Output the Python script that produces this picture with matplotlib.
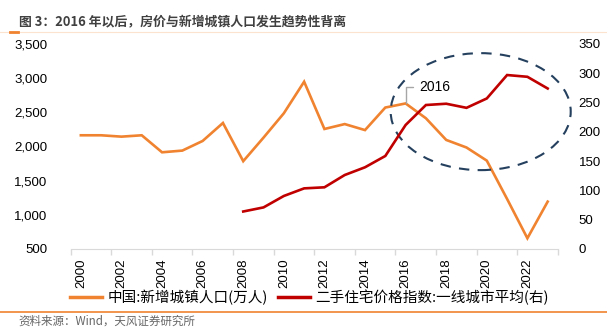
import matplotlib
matplotlib.use("Agg")
import matplotlib.pyplot as plt
from matplotlib.patches import Ellipse
from matplotlib.lines import Line2D

plt.rcParams['font.family'] = ['Noto Sans CJK SC', 'DejaVu Sans']

# data
years = list(range(2000, 2024))
new_urban_pop = [2164, 2164, 2144, 2164, 1915, 1940, 2081, 2344, 1785, 2130, 2486, 2948,
                 2256, 2328, 2240, 2570, 2630, 2413, 2096, 1985, 1793, 1232, 657, 1193]
price_years = list(range(2008, 2024))
price_index = [64, 71, 90.5, 103.5, 105.3, 126.3, 139.5, 158.8, 211.7, 245.8, 248, 241,
               257, 297, 294, 274]
tick_years = years[::2]

orange = '#F0832F'
red = '#C00000'
navy = '#24405E'

fig = plt.figure(figsize=(6.07, 3.33), dpi=100)
ax = fig.add_axes([0.1165, 0.2523, 0.8025, 0.6156])
ax2 = ax.twinx()

xs = [y - 2000 for y in years]
pxs = [y - 2000 for y in price_years]
ax.plot(xs, new_urban_pop, color=orange, lw=1.9, solid_joinstyle='miter')
ax2.plot(pxs, price_index, color=red, lw=1.9, solid_joinstyle='miter')

ax.set_xlim(-0.5, len(years) - 0.5)
ax.set_ylim(500, 3500)
ax2.set_ylim(0, 350)
ax.set_yticks(range(500, 3501, 500))
ax.set_yticklabels([f'{v:,}' for v in range(500, 3501, 500)])
ax2.set_yticks(range(0, 351, 50))

ax.set_xticks([y - 2000 for y in tick_years])
ax.set_xticklabels([str(y) for y in tick_years], rotation=90, family='Liberation Sans', fontsize=9.5)
ax.set_xticks([i - 0.5 for i in range(0, len(years) + 1, 2)], minor=True)
ax.tick_params(axis='x', which='major', length=0, pad=7)
ax.tick_params(axis='x', which='minor', length=4, color='#D9D9D9', width=1)
ax.tick_params(axis='y', length=0, pad=17, labelsize=9.5)
ax2.tick_params(axis='y', length=0, pad=15, labelsize=9.5)
for lab in ax.get_yticklabels() + ax2.get_yticklabels():
    lab.set_family('Liberation Sans')

for a in (ax, ax2):
    for s in ('top', 'right', 'left'):
        a.spines[s].set_visible(False)
    a.spines['bottom'].set_color('#D9D9D9')
ax2.spines['bottom'].set_visible(False)

# circle the post-2016 divergence
ell = Ellipse((19.7, 2510), 8.87, 1712, fill=False, ls=(0, (5, 4)), lw=1.5,
              edgecolor=navy, clip_on=False, zorder=5)
ax.add_patch(ell)

ax.annotate('2016', xy=(16, new_urban_pop[16]),
            xytext=(10, 12), textcoords='offset points', fontsize=10,
            family='Liberation Sans', va='center', ha='left', color='#000000',
            arrowprops=dict(arrowstyle='-', color='#A6A6A6', lw=1,
                            connectionstyle='angle,angleA=0,angleB=90,rad=0',
                            shrinkA=3, shrinkB=0))

handles = [Line2D([], [], color=orange, lw=2.5), Line2D([], [], color=red, lw=2.5)]
labels = ['中国:新增城镇人口(万人)', '二手住宅价格指数:一线城市平均(右)']
fig.legend(handles, labels, loc='center left', bbox_to_anchor=(0.1153, 0.108), ncol=2,
           frameon=False, fontsize=10.5, handlelength=2.2, columnspacing=0.7,
           handletextpad=0.35, borderpad=0, borderaxespad=0)

fig.text(0.031, 0.932, '图 3：2016 年以后，房价与新增城镇人口发生趋势性背离', fontsize=9.3,
         fontweight='bold', color='#404040', va='center')
fig.add_artist(Line2D([0, 1], [0.903, 0.903], color='#FBE3D0', lw=0.8))
fig.add_artist(Line2D([0.016, 0.03], [0.903, 0.903], color=orange, lw=2))
fig.add_artist(Line2D([0, 1], [0.064, 0.064], color=orange, lw=1.2))
fig.text(0.03, 0.034, '资料来源：Wind，天风证券研究所', fontsize=8.3, color='#666666', va='center')

fig.savefig('out.png', dpi=100)
